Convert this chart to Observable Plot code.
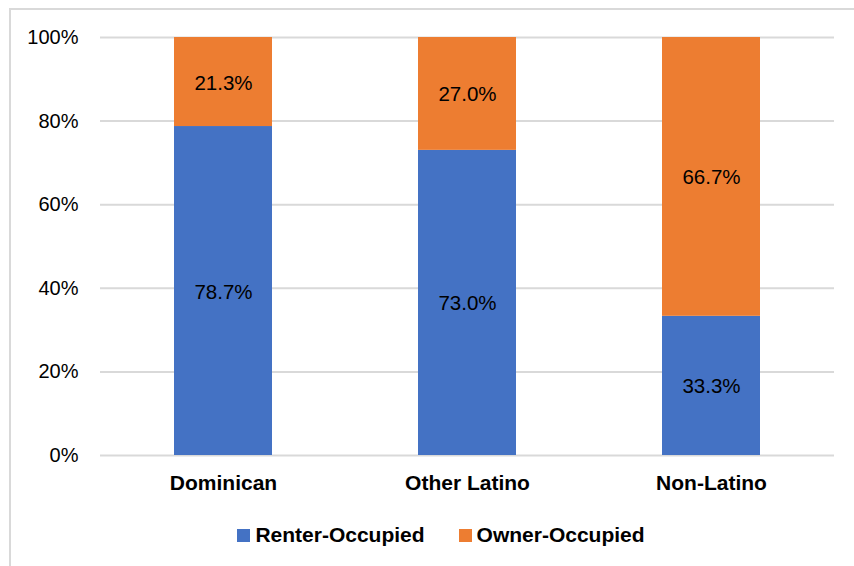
<!DOCTYPE html>
<html>
<head>
<meta charset="utf-8">
<script src="https://cdn.jsdelivr.net/npm/d3@7"></script>
<script src="https://cdn.jsdelivr.net/npm/@observablehq/plot@0.6"></script>
<style>
  html, body { margin: 0; padding: 0; background: #fff; overflow: hidden; }
  #wrap { position: relative; width: 854px; height: 566px; font-family: "Liberation Sans", Arial, sans-serif; }
  #frame { position: absolute; left: 9px; top: 8px; width: 900px; height: 600px; border-left: 2px solid #d9d9d9; border-top: 2px solid #d9d9d9; pointer-events: none; }
  #chart svg { display: block; }
  #legend { position: absolute; left: 0; top: 523px; width: 854px; display: flex; justify-content: center; align-items: center; gap: 34px; font-weight: bold; font-size: 21px; color: #000; padding-left: 28px; box-sizing: border-box; }
  .item { display: flex; align-items: center; gap: 5px; }
  .sw { width: 13px; height: 13px; display: inline-block; }
</style>
</head>
<body>
<div id="wrap">
  <div id="frame"></div>
  <div id="chart"></div>
  <div id="legend"></div>
</div>
<script>
const categories = ["Dominican", "Other Latino", "Non-Latino"];
const seriesNames = ["Renter-Occupied", "Owner-Occupied"];
const renter = [78.7, 73.0, 33.3];
const owner = [21.3, 27.0, 66.7];
const yTicks = [0, 20, 40, 60, 80, 100];
const colors = ["#4472C4", "#ED7D31"];

const rows = [];
categories.forEach((c, i) => rows.push({category: c, type: seriesNames[0], value: renter[i]}));
categories.forEach((c, i) => rows.push({category: c, type: seriesNames[1], value: owner[i]}));

const plot = Plot.plot({
  width: 854,
  height: 500,
  marginLeft: 100,
  marginRight: 20,
  marginTop: 37,
  marginBottom: 45,
  style: {fontFamily: "Liberation Sans, Arial, sans-serif", background: "transparent"},
  x: {domain: categories, paddingInner: 0.6, paddingOuter: 0.3, label: null},
  y: {domain: [0, 100], label: null},
  color: {domain: seriesNames, range: colors},
  marks: [
    Plot.gridY(yTicks, {stroke: "#d9d9d9", strokeOpacity: 1, strokeWidth: 2}),
    Plot.barY(rows, Plot.stackY({x: "category", y: "value", fill: "type", order: null})),
    Plot.text(rows, Plot.stackY({x: "category", y: "value", order: null, text: d => d.value.toFixed(1) + "%", fontSize: 20.5, fill: "#000", dy: 1})),
    Plot.axisY(yTicks, {tickSize: 0, tickPadding: 22, tickFormat: d => d + "%", fontSize: 20, fill: "#000", label: null}),
    Plot.axisX({tickSize: 0, tickPadding: 20, fontSize: 21, fontWeight: "bold", fill: "#000", label: null})
  ]
});
document.getElementById("chart").appendChild(plot);

const legend = document.getElementById("legend");
seriesNames.forEach((s, i) => {
  const it = document.createElement("div");
  it.className = "item";
  const sw = document.createElement("span");
  sw.className = "sw";
  sw.style.background = colors[i];
  const t = document.createElement("span");
  t.textContent = s;
  it.appendChild(sw); it.appendChild(t);
  legend.appendChild(it);
});
</script>
</body>
</html>
